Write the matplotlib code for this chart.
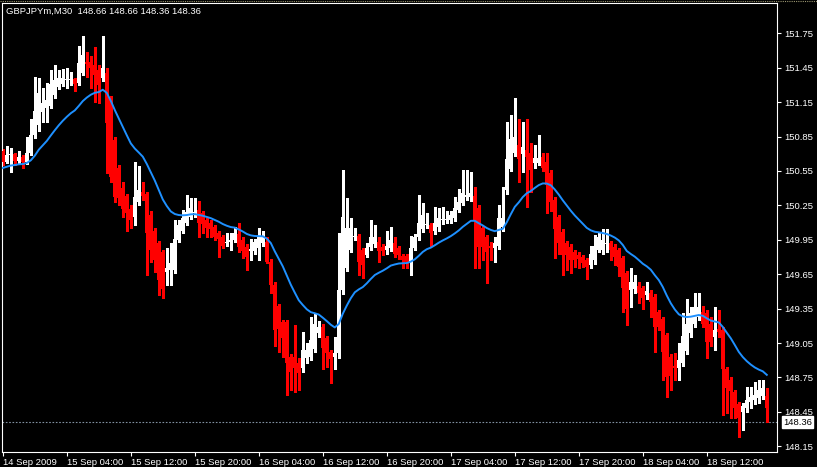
import matplotlib
matplotlib.use('Agg')
import matplotlib.pyplot as plt
import matplotlib.transforms as mtransforms
from matplotlib.lines import Line2D
import numpy as np

plt.rcParams['font.family'] = ['Liberation Sans', 'DejaVu Sans']

title = 'GBPJPYm,M30  148.66 148.66 148.36 148.36'
last_price = 148.36
ma_start = 150.57   # moving average value just before the first bar
ma_period = 20

# M30 bars, 14 Sep 2009 20:00 onwards
opens = [
    150.72, 150.63, 150.69, 150.70, 150.64, 150.67, 150.63, 150.71, 150.86, 150.95,
    151.06, 151.10, 151.12, 151.21, 151.28, 151.31, 151.34, 151.34, 151.35, 151.32,
    151.40, 151.50, 151.50, 151.47, 151.43, 151.36, 151.40, 151.18, 150.82, 150.58,
    150.40, 150.33, 150.22, 150.15, 150.28, 150.37, 150.35, 150.17, 150.03, 149.92,
    149.84, 149.67, 149.69, 149.69, 149.95, 150.03, 150.10, 150.15, 150.18, 150.21,
    150.18, 150.12, 150.10, 150.06, 150.01, 149.97, 149.92, 149.93, 149.95, 150.00,
    149.95, 149.89, 149.85, 149.85, 149.88, 149.92, 149.93, 149.76, 149.56, 149.37,
    149.23, 149.23, 148.93, 148.93, 148.88, 148.83, 148.92, 148.93, 149.00, 149.14,
    149.19, 149.09, 148.97, 148.93, 148.96, 149.51, 149.70, 149.86, 149.97, 149.98,
    149.86, 149.82, 149.89, 149.91, 149.93, 149.89, 149.86, 149.88, 149.92, 149.88,
    149.81, 149.81, 149.76, 149.88, 149.97, 150.04, 150.08, 150.08, 150.03, 150.06,
    150.12, 150.12, 150.12, 150.14, 150.21, 150.27, 150.32, 150.32, 150.33, 150.23,
    150.05, 149.97, 149.90, 149.88, 149.90, 150.06, 150.38, 150.57, 150.71, 150.78,
    150.70, 150.73, 150.71, 150.62, 150.62, 150.67, 150.63, 150.53, 150.30, 150.15,
    150.02, 149.92, 149.89, 149.84, 149.82, 149.80, 149.77, 149.73, 149.77, 149.86,
    149.86, 149.91, 149.92, 149.89, 149.86, 149.79, 149.66, 149.51, 149.52, 149.55,
    149.53, 149.47, 149.49, 149.45, 149.32, 149.26, 149.12, 148.93, 148.85, 148.83,
    148.88, 148.98, 149.14, 149.22, 149.28, 149.32, 149.31, 149.22, 149.10, 149.17,
    149.16, 148.82, 148.73, 148.62, 148.52, 148.45, 148.48, 148.54, 148.55, 148.57,
    148.59, 148.59,
]
highs = [
    150.74, 150.77, 150.75, 150.71, 150.72, 150.69, 150.85, 151.00, 151.37, 151.36,
    151.27, 151.32, 151.43, 151.47, 151.43, 151.44, 151.45, 151.41, 151.36, 151.64,
    151.73, 151.59, 151.55, 151.63, 151.47, 151.73, 151.45, 151.20, 150.85, 150.60,
    150.45, 150.35, 150.25, 150.63, 150.59, 150.45, 150.37, 150.20, 150.05, 149.94,
    149.86, 149.88, 149.92, 150.12, 150.12, 150.21, 150.34, 150.31, 150.31, 150.29,
    150.20, 150.14, 150.12, 150.08, 150.03, 149.99, 150.01, 150.01, 150.06, 150.10,
    149.97, 149.91, 149.96, 149.96, 150.05, 150.03, 149.97, 149.78, 149.58, 149.39,
    149.25, 149.25, 148.95, 149.21, 148.92, 149.15, 149.05, 149.28, 149.31, 149.24,
    149.22, 149.11, 148.99, 149.10, 150.01, 150.56, 150.31, 150.14, 150.05, 150.00,
    149.88, 149.92, 150.12, 150.08, 149.97, 149.91, 150.03, 150.06, 149.97, 149.90,
    149.83, 149.83, 149.98, 150.00, 150.34, 150.27, 150.18, 150.10, 150.24, 150.23,
    150.24, 150.20, 150.20, 150.32, 150.39, 150.56, 150.56, 150.54, 150.41, 150.25,
    150.07, 149.99, 149.93, 149.97, 150.25, 150.41, 150.98, 151.04, 151.19, 151.00,
    150.98, 151.00, 150.79, 150.78, 150.86, 150.71, 150.71, 150.56, 150.32, 150.17,
    150.04, 149.94, 149.91, 149.86, 149.84, 149.82, 149.79, 149.90, 149.99, 150.02,
    150.04, 150.04, 149.94, 149.91, 149.88, 149.81, 149.68, 149.70, 149.64, 149.58,
    149.55, 149.58, 149.51, 149.48, 149.34, 149.28, 149.14, 148.95, 148.96, 149.05,
    149.31, 149.43, 149.36, 149.49, 149.49, 149.37, 149.34, 149.28, 149.36, 149.34,
    149.19, 148.84, 148.75, 148.64, 148.54, 148.53, 148.67, 148.67, 148.71, 148.73,
    148.73, 148.66,
]
lows = [
    150.60, 150.62, 150.54, 150.60, 150.62, 150.58, 150.61, 150.69, 150.84, 150.90,
    150.98, 150.98, 151.10, 151.19, 151.26, 151.29, 151.27, 151.30, 151.25, 151.30,
    151.39, 151.37, 151.27, 151.15, 151.14, 151.33, 150.53, 150.45, 150.28, 150.25,
    150.15, 150.03, 150.05, 150.08, 150.25, 150.30, 149.64, 149.76, 149.67, 149.47,
    149.44, 149.56, 149.56, 149.66, 149.93, 150.01, 150.08, 150.13, 150.15, 149.97,
    150.01, 149.97, 149.97, 149.95, 149.80, 149.88, 149.90, 149.86, 149.93, 149.84,
    149.79, 149.69, 149.77, 149.83, 149.77, 149.90, 149.75, 149.49, 149.02, 148.97,
    148.93, 148.60, 148.64, 148.62, 148.64, 148.80, 148.88, 148.90, 148.97, 149.10,
    148.82, 148.84, 148.70, 148.82, 148.92, 149.48, 149.68, 149.84, 149.95, 149.64,
    149.62, 149.80, 149.86, 149.89, 149.76, 149.82, 149.83, 149.85, 149.80, 149.78,
    149.70, 149.70, 149.64, 149.86, 149.95, 150.02, 150.05, 149.90, 150.00, 150.03,
    150.09, 150.10, 150.10, 150.11, 150.19, 150.25, 150.30, 150.29, 149.70, 149.70,
    149.77, 149.57, 149.77, 149.76, 149.87, 150.03, 150.35, 150.55, 150.68, 150.45,
    150.54, 150.24, 150.37, 150.58, 150.60, 150.55, 150.18, 150.20, 149.79, 149.83,
    149.64, 149.69, 149.66, 149.71, 149.70, 149.71, 149.61, 149.70, 149.74, 149.84,
    149.83, 149.84, 149.77, 149.73, 149.63, 149.32, 149.21, 149.36, 149.49, 149.40,
    149.35, 149.43, 149.28, 148.97, 149.16, 148.73, 148.58, 148.64, 148.73, 148.73,
    148.85, 148.95, 149.10, 149.19, 149.25, 149.19, 148.92, 149.02, 148.99, 149.10,
    148.42, 148.44, 148.40, 148.40, 148.23, 148.29, 148.45, 148.48, 148.52, 148.53,
    148.56, 148.36,
]
closes = [
    150.63, 150.69, 150.70, 150.64, 150.67, 150.63, 150.71, 150.86, 151.07, 151.23,
    151.14, 151.17, 151.31, 151.34, 151.36, 151.36, 151.35, 151.35, 151.31, 151.49,
    151.56, 151.48, 151.45, 151.39, 151.30, 151.45, 150.97, 150.50, 150.32, 150.31,
    150.22, 150.18, 150.12, 150.32, 150.38, 150.33, 150.01, 149.86, 149.77, 149.60,
    149.52, 149.70, 149.75, 149.96, 150.08, 150.14, 150.19, 150.23, 150.19, 150.10,
    150.09, 150.05, 150.04, 149.97, 149.96, 149.90, 149.93, 149.95, 150.01, 149.89,
    149.85, 149.80, 149.87, 149.93, 149.97, 149.97, 149.76, 149.56, 149.16, 149.17,
    149.09, 148.88, 148.80, 148.83, 148.79, 148.99, 148.99, 149.08, 149.22, 149.19,
    149.01, 148.96, 148.91, 148.96, 149.51, 150.15, 150.05, 150.05, 149.98, 149.76,
    149.73, 149.88, 149.97, 149.97, 149.85, 149.85, 149.90, 149.95, 149.83, 149.82,
    149.77, 149.76, 149.88, 149.97, 150.10, 150.17, 150.09, 150.01, 150.10, 150.14,
    150.13, 150.13, 150.17, 150.23, 150.28, 150.36, 150.34, 150.36, 150.12, 149.89,
    149.89, 149.84, 149.88, 149.92, 150.14, 150.14, 150.65, 150.83, 150.85, 150.65,
    150.76, 150.67, 150.56, 150.66, 150.66, 150.58, 150.43, 150.28, 150.04, 149.92,
    149.82, 149.82, 149.77, 149.77, 149.78, 149.75, 149.71, 149.83, 149.90, 149.97,
    149.95, 149.92, 149.86, 149.80, 149.71, 149.53, 149.35, 149.58, 149.58, 149.49,
    149.44, 149.50, 149.41, 149.19, 149.19, 148.97, 148.75, 148.76, 148.83, 148.90,
    149.11, 149.22, 149.31, 149.36, 149.36, 149.22, 149.06, 149.06, 149.16, 149.15,
    148.82, 148.66, 148.63, 148.48, 148.40, 148.50, 148.55, 148.58, 148.60, 148.64,
    148.66, 148.48,
]

xtick_bars = [0, 16, 32, 48, 64, 80, 96, 112, 128, 144, 160, 176]
xtick_labels = ['14 Sep 2009', '15 Sep 04:00', '15 Sep 12:00', '15 Sep 20:00',
                '16 Sep 04:00', '16 Sep 12:00', '16 Sep 20:00', '17 Sep 04:00',
                '17 Sep 12:00', '17 Sep 20:00', '18 Sep 04:00', '18 Sep 12:00']
yticks = [148.15, 148.45, 148.75, 149.05, 149.35, 149.65, 149.95,
          150.25, 150.55, 150.85, 151.15, 151.45, 151.75]


def ema(values, start, period):
    k = 2.0 / (period + 1)
    out = []
    m = start
    for v in values:
        m = m + k * (v - m)
        out.append(m)
    return out


def main():
    o = np.array(opens)
    h = np.array(highs)
    lo = np.array(lows)
    c = np.array(closes)
    idx = np.arange(len(c))

    fig = plt.figure(figsize=(8.17, 4.67), dpi=100, facecolor='black')
    ax = fig.add_axes([2 / 817, 15 / 467, 775 / 817, 449 / 467])
    ax.set_facecolor('black')

    cols = ['white' if cc >= oo else '#ff0000' for oo, cc in zip(o, c)]
    ax.vlines(idx, lo, h, colors=cols, linewidth=0.75, antialiased=False, zorder=2)
    bottoms = np.minimum(o, c)
    heights = np.maximum(np.abs(c - o), 0.009)
    ax.bar(idx, heights, bottom=bottoms, width=0.75, color=cols,
           linewidth=0, antialiased=False, zorder=3)

    ax.plot(idx, ema(closes, ma_start, ma_period), color='#1e90ff', lw=1.4, zorder=4)

    ax.axhline(last_price, color='#8090a0', lw=0.8, ls=(0, (1.5, 1.5)), zorder=1)

    ax.set_xlim(-0.2, -0.2 + 775 / 4)
    ax.set_ylim(148.10, 152.014)

    for s in ax.spines.values():
        s.set_color('white')
        s.set_linewidth(0.8)

    ax.yaxis.tick_right()
    ax.set_yticks(yticks)
    ax.set_yticklabels(['%.2f' % v for v in yticks])
    ax.tick_params(axis='y', colors='white', length=3, width=0.8, pad=2,
                   labelsize=6.8)
    ax.set_xticks(xtick_bars)
    ax.set_xticklabels(xtick_labels, ha='left')
    ax.tick_params(axis='x', colors='white', length=3, width=0.8, pad=1,
                   labelsize=6.8)

    trans = mtransforms.blended_transform_factory(ax.transAxes, ax.transData)
    ax.text(1 + 6 / 775, last_price, '%.2f' % last_price, transform=trans,
            ha='left', va='center', fontsize=6.8, color='black',
            bbox=dict(boxstyle='square,pad=0.15', fc='white', ec='white'))

    fig.text(6 / 817, 1 - 11 / 467, title, ha='left', va='center',
             color='white', fontsize=6.8)
    fig.add_artist(Line2D([0, 1], [1 - 0.6 / 467] * 2, color='#9a9670',
                          lw=0.8, ls=(0, (1, 1))))

    fig.savefig('out.png', dpi=100, facecolor='black')


if __name__ == '__main__':
    main()
